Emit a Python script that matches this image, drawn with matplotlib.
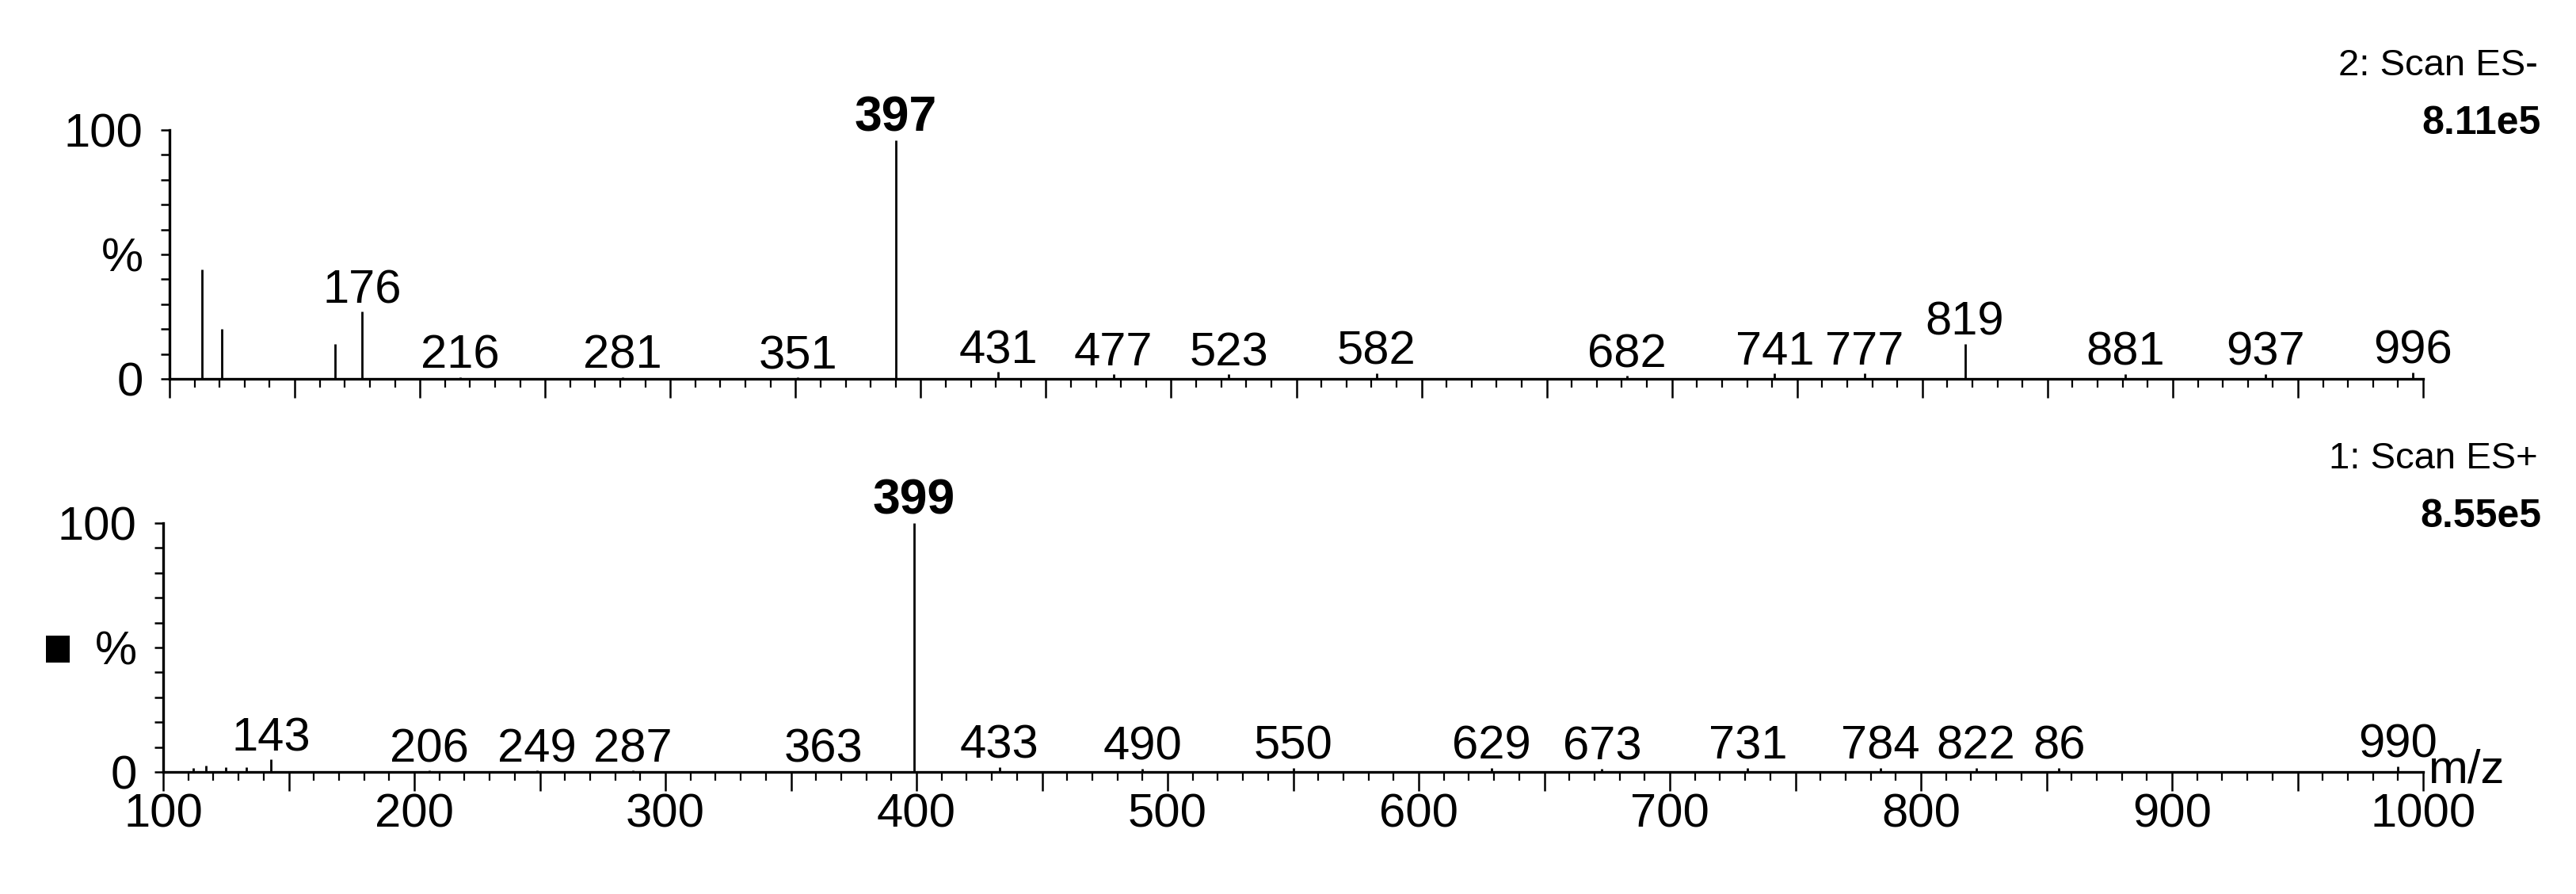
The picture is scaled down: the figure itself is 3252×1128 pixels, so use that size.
import matplotlib
matplotlib.use("Agg")
import matplotlib.pyplot as plt
from matplotlib.patches import Rectangle
from matplotlib.ticker import MultipleLocator, FuncFormatter

plt.rcParams['font.family'] = ['Liberation Sans', 'DejaVu Sans']
LAB, BIG, HEAD, SCALE = 43, 45, 34, 36

# upper trace, 2: Scan ES-  (m/z, % intensity, peak label)
neg_mz = [113, 121, 166, 177, 216, 281, 351, 390, 431, 477, 523, 582, 682, 741, 777, 817, 881, 937, 996]
neg_int = [44, 20, 14, 27, 0.7, 0.7, 0.5, 96, 2.8, 1.8, 1.8, 2.3, 1.2, 2.3, 2.3, 14, 2.0, 2.0, 2.6]
neg_lbl = ["", "", "", "176", "216", "281", "351", "397", "431", "477", "523", "582",
           "682", "741", "777", "819", "881", "937", "996"]

# lower trace, 1: Scan ES+
pos_mz = [112, 117, 125, 133, 143, 206, 249, 287, 363, 399, 433, 490, 550, 629, 673, 731, 784, 822, 855, 990]
pos_int = [1.5, 2.5, 2.0, 2.0, 5.0, 0.5, 0.5, 0.5, 0.3, 100, 2.0, 1.3, 1.7, 1.7, 1.3, 1.7, 1.7, 1.7, 1.7, 2.2]
pos_lbl = ["", "", "", "", "143", "206", "249", "287", "363", "399", "433", "490", "550", "629",
           "673", "731", "784", "822", "86", "990"]

panels = [
    ("2: Scan ES-", "8.11e5", neg_mz, neg_int, neg_lbl),
    ("1: Scan ES+", "8.55e5", pos_mz, pos_int, pos_lbl),
]

W, H = 3252, 1128
fig = plt.figure(figsize=(W / 100, H / 100), dpi=100)

# axes boxes in pixels: left, y of 0 line
boxes = [(214, 478), (206, 974)]
right = 3059
span = 314

axes = []
for (left, y0), (title, scale, mz, inten, lbl) in zip(boxes, panels):
    ax = fig.add_axes([left / W, (H - y0) / H, (right - left) / W, span / H])
    axes.append(ax)
    ax.vlines(mz, 0, inten, color="black", lw=2.0)
    for m, i, l in zip(mz, inten, lbl):
        if l:
            big = i > 90
            ax.annotate(l, (m, i), xytext=(0, 8), textcoords="offset points",
                        ha="center", va="baseline", fontsize=BIG if big else LAB,
                        fontweight="bold" if big else "normal")
    ax.set_xlim(100, 1000)
    ax.set_ylim(0, 100)
    for s in ["top", "right"]:
        ax.spines[s].set_visible(False)
    for s in ["left", "bottom"]:
        ax.spines[s].set_linewidth(2.4)
    ax.xaxis.set_major_locator(MultipleLocator(50))
    ax.xaxis.set_minor_locator(MultipleLocator(10))
    ax.yaxis.set_major_locator(MultipleLocator(10))
    ax.xaxis.set_major_formatter(FuncFormatter(lambda v, p: f"{int(round(v))}" if round(v) % 100 == 0 else ""))
    ax.yaxis.set_major_formatter(FuncFormatter(lambda v, p: {0: "0", 50: "%", 100: "100"}.get(int(round(v)), "")))
    ax.tick_params(axis="x", which="major", direction="out", length=17, width=1.8, pad=2, labelsize=LAB)
    ax.tick_params(axis="x", which="minor", direction="out", length=8, width=1.6)
    ax.tick_params(axis="y", which="major", direction="out", length=8, width=1.8, pad=16, labelsize=LAB)

    fig.text(3204 / W, 1 - (y0 - 395) / H, title, ha="right", va="center", fontsize=HEAD)
    fig.text(3208 / W, 1 - (y0 - 322) / H, scale, ha="right", va="center", fontsize=SCALE, fontweight="bold")

axes[0].tick_params(axis="x", labelbottom=False)

fig.text(3065 / W, 1 - 972 / H, "m/z", ha="left", va="center", fontsize=LAB)
fig.add_artist(Rectangle((58 / W, 1 - 836 / H), 30 / W, 34 / H, transform=fig.transFigure,
                         facecolor="black", edgecolor="none"))

fig.savefig("out.png", dpi=100, facecolor="white")
